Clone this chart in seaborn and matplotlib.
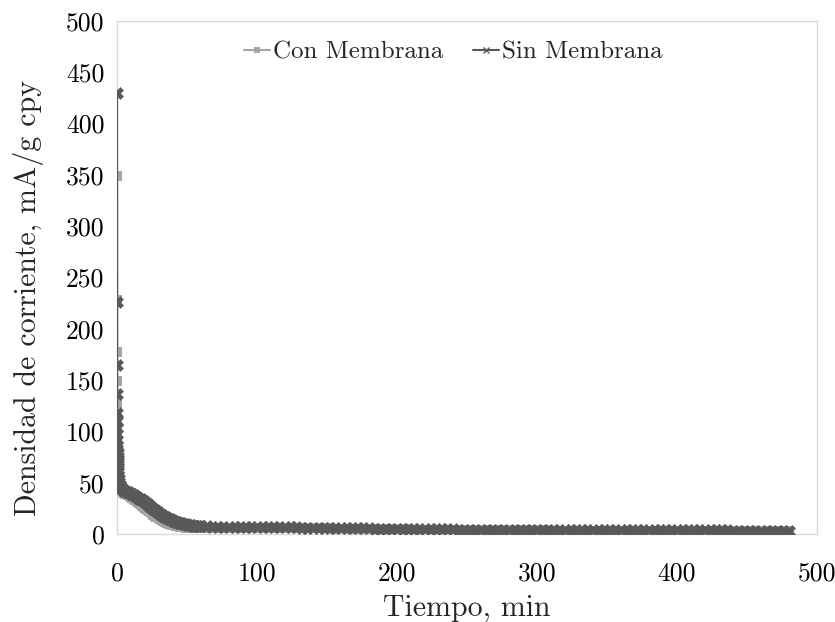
import numpy as np
import pandas as pd
import matplotlib
matplotlib.use("Agg")
import matplotlib.pyplot as plt
from matplotlib.lines import Line2D
import seaborn as sns

# ---------------- data ----------------
spike_time = [0.0, 0.02, 0.05, 0.08, 0.1, 0.13, 0.17, 0.2, 0.25, 0.3, 0.35, 0.4,
              0.5, 0.6, 0.7, 0.8, 0.9, 1.0, 1.25, 1.5, 1.75, 2.0, 2.5, 3.0, 3.5,
              4.0, 4.5]
decay_time = list(range(5, 61))          # 1-min sampling
tail_time = list(range(64, 481, 4))      # 4-min sampling
tiempo = spike_time + decay_time + tail_time

sin_spike = [430, 226, 165, 136, 118, 110, 103, 97, 92, 87, 83, 79, 75, 71, 67,
             63, 60, 57, 54, 51, 49, 47.5, 46, 45, 44, 43, 42.5]
con_spike = [349, 228, 177, 149, 128, 114, 104, 96, 90, 85, 80, 76, 72, 68, 64,
             60, 57, 54, 51, 49, 47, 45.5, 44, 43, 42, 41, 40.5]

sin_decay = [42, 41.5, 41, 40.5, 40, 39.4, 38.8, 38.1, 37.3, 36.4, 35.5, 34.6,
             33.7, 32.8, 31.9, 31, 29.9, 28.8, 27.7, 26.6, 25.5, 24.4, 23.3,
             22.2, 21.1, 20.2, 19.4, 18.6, 17.8, 17.0, 16.3, 15.6, 14.9, 14.3,
             13.7, 13.1, 12.6, 12.1, 11.6, 11.2, 10.8, 10.4, 10.0, 9.7, 9.4,
             9.1, 8.8, 8.6, 8.4, 8.2, 8.0, 7.9, 7.8, 7.7, 7.6, 7.5]
con_decay = [40, 39.3, 38.6, 37.8, 37, 36.1, 35.2, 34.2, 33.2, 32.1, 31, 29.9,
             28.8, 27.7, 26.6, 25.5, 24.4, 23.3, 22.2, 21.1, 20, 19, 18, 17,
             16.1, 15.2, 14.4, 13.6, 12.8, 12.1, 11.4, 10.8, 10.2, 9.7, 9.2,
             8.8, 8.4, 8.0, 7.7, 7.4, 7.1, 6.9, 6.7, 6.5, 6.3, 6.2, 6.1, 6.0,
             5.9, 5.8, 5.8, 5.7, 5.7, 5.7, 5.6, 5.6]

sin_tail = [7.4, 7.3, 7.2,
            7.0, 7.0, 6.9, 6.9, 6.9, 6.8, 6.8, 6.8, 6.8, 6.7, 6.7, 6.7, 6.7, 6.6,
            6.0, 6.0, 6.0, 5.9, 5.9, 5.9, 5.9, 5.8, 5.8, 5.8, 5.8, 5.8, 5.7,
            5.0, 5.0, 5.0, 5.0, 4.9, 4.9, 4.9, 4.9, 4.9, 4.8, 4.8, 4.8, 4.8, 4.8, 4.8,
            4.3, 4.3, 4.3, 4.3, 4.3, 4.2, 4.2, 4.2, 4.2, 4.2, 4.2,
            4.1, 4.1, 4.1, 4.1, 4.1, 4.1,
            3.7, 3.7, 3.7, 3.7, 3.7, 3.7, 3.7, 3.7, 3.7, 3.7,
            3.6, 3.6, 3.6, 3.6, 3.6, 3.6, 3.6, 3.6, 3.6, 3.6, 3.6,
            3.5, 3.5, 3.5, 3.5, 3.5, 3.5, 3.5, 3.5, 3.5, 3.5, 3.5,
            3.4, 3.4, 3.4, 3.4, 3.4, 3.4, 3.4, 3.4, 3.4, 3.4, 3.4]
con_tail = [5.5, 5.5, 5.6,
            6.3, 6.3, 6.3, 6.2, 6.2, 6.2, 6.2, 6.1, 6.1, 6.1, 6.1, 6.0, 6.0, 6.0,
            5.5, 5.5, 5.5, 5.4, 5.4, 5.4, 5.3, 5.3, 5.3, 5.3, 5.2, 5.2, 5.2,
            4.5, 4.5, 4.5, 4.4, 4.4, 4.4, 4.4, 4.3, 4.3, 4.3, 4.3, 4.3, 4.2, 4.2, 4.2,
            3.8, 3.8, 3.8, 3.8, 3.8, 3.7, 3.7, 3.7, 3.7, 3.7, 3.7,
            3.6, 3.6, 3.6, 3.6, 3.6, 3.6,
            3.2, 3.2, 3.2, 3.2, 3.2, 3.2, 3.2, 3.2, 3.2, 3.2,
            3.1, 3.1, 3.1, 3.1, 3.1, 3.1, 3.1, 3.1, 3.1, 3.1, 3.1,
            3.0, 3.0, 3.0, 3.0, 3.0, 3.0, 3.0, 3.0, 3.0, 3.0, 3.0,
            2.9, 2.9, 2.9, 2.9, 2.9, 2.9, 2.9, 2.9, 2.9, 2.9, 2.9]

con_membrana = con_spike + con_decay + con_tail
sin_membrana = sin_spike + sin_decay + sin_tail

x_ticks = [0, 100, 200, 300, 400, 500]
y_ticks = [0, 50, 100, 150, 200, 250, 300, 350, 400, 450, 500]
series_names = ["Con Membrana", "Sin Membrana"]

# ---------------- style ----------------
sns.set_style("white")
plt.rcParams["font.family"] = ["cmr10", "DejaVu Serif"]
plt.rcParams["mathtext.fontset"] = "cm"
plt.rcParams["axes.unicode_minus"] = False
plt.rcParams["axes.formatter.use_mathtext"] = True

COL_CON = "#A5A5A5"
COL_SIN = "#595959"
FRAME = "#D9D9D9"

df_con = pd.DataFrame({"Tiempo": tiempo, "Densidad": con_membrana})
df_sin = pd.DataFrame({"Tiempo": tiempo, "Densidad": sin_membrana})

fig = plt.figure(figsize=(8.35, 6.22), dpi=100)
ax = fig.add_axes([117 / 835, 1 - 534 / 622, 700 / 835, 513 / 622])

sns.lineplot(data=df_con, x="Tiempo", y="Densidad", ax=ax, color=COL_CON,
             marker="s", markersize=7.5, markeredgewidth=0, linewidth=1.6,
             sort=False, estimator=None, legend=False, zorder=2)
sns.lineplot(data=df_sin, x="Tiempo", y="Densidad", ax=ax, color=COL_SIN,
             marker="X", markersize=9, markeredgewidth=0.4,
             markeredgecolor=COL_SIN, linewidth=1.6,
             sort=False, estimator=None, legend=False, zorder=3)

ax.set_xlim(0, 500)
ax.set_ylim(0, 500)
ax.set_xticks(x_ticks)
ax.set_yticks(y_ticks)
ax.set_xticklabels([str(v) for v in x_ticks])
ax.set_yticklabels([str(v) for v in y_ticks])
ax.tick_params(axis="both", length=0, labelsize=18.5, colors="#000000")
ax.tick_params(axis="y", pad=9)
ax.tick_params(axis="x", pad=20)
for s in ax.spines.values():
    s.set_color(FRAME)
    s.set_linewidth(1.0)
    s.set_visible(True)

ax.set_xlabel("Tiempo, min", fontsize=21.5)
ax.set_ylabel("Densidad de corriente, mA/g cpy", fontsize=21.5)
ax.xaxis.set_label_coords(0.5, -0.118)
ax.yaxis.set_label_coords(-0.104, 0.46)

handles = [
    Line2D([], [], color=COL_CON, marker="s", markersize=4, markeredgewidth=0,
           linewidth=1.5),
    Line2D([], [], color=COL_SIN, marker="x", markersize=5, markeredgewidth=1,
           linewidth=1.5),
]
fig.legend(handles, series_names, loc="center",
           bbox_to_anchor=(453 / 835, 1 - 52 / 622), ncol=2, frameon=False,
           fontsize=18, handlelength=1.05, handletextpad=0.1,
           columnspacing=1.2)

fig.savefig("out.png", dpi=100)
